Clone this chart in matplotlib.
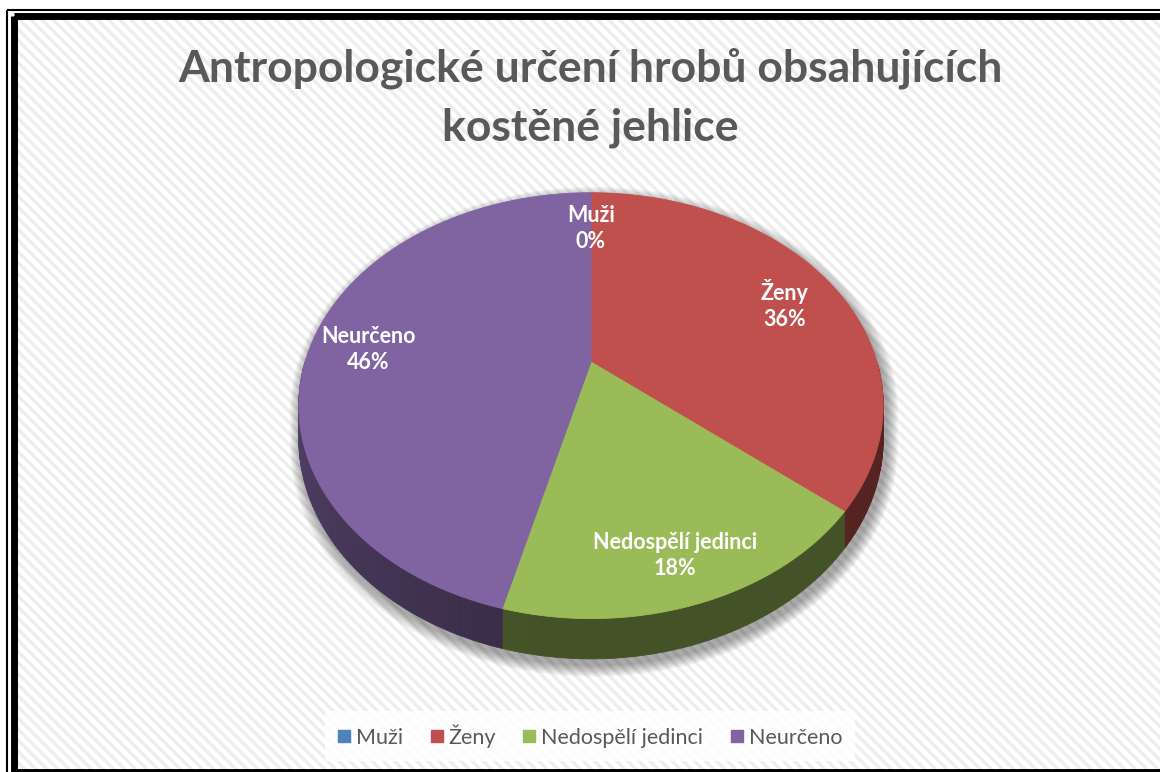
import numpy as np
import matplotlib
matplotlib.use('Agg')
import matplotlib.pyplot as plt
from matplotlib.patches import Polygon, Rectangle
from matplotlib.lines import Line2D
import matplotlib.colors as mcolors

# ---------------- data ----------------
categories = ['Muži', 'Ženy', 'Nedospělí jedinci', 'Neurčeno']
values = [0, 36, 18, 46]
colors = ['#4F81BD', '#C0504D', '#9BBB59', '#8064A2']
title_lines = ['Antropologické určení hrobů obsahujících', 'kostěné jehlice']

FONT = ['Lato', 'DejaVu Sans']
TXT = '#595959'

W, H = 1160, 772
fig = plt.figure(figsize=(W / 100, H / 100), dpi=100)
ax = fig.add_axes([0, 0, 1, 1])
ax.set_xlim(0, W)
ax.set_ylim(H, 0)
ax.axis('off')

# ---------------- background ----------------
plt.rcParams['hatch.linewidth'] = 2.4
ax.add_patch(Rectangle((0, 0), W, H, facecolor='white', edgecolor='none', zorder=0))
ax.add_patch(Rectangle((17, 19), W, H, facecolor='none', edgecolor='#EDEDED',
                       hatch='\\\\\\', linewidth=0, zorder=0.5))

# frame
ax.add_patch(Rectangle((7, 10), W + 20, H, facecolor='none', edgecolor='black',
                       linewidth=1.5, zorder=10))
ax.add_patch(Rectangle((13.5, 16), W + 20, 755.5, facecolor='none', edgecolor='black',
                       linewidth=5.0, zorder=10))

# ---------------- perspective pie ----------------
cx, cy = 591, 362
A, B, p, D = 286, 204, 0.205, 32


def proj(theta_deg, r=1.0, drop=0.0):
    t = np.radians(theta_deg)
    x = r * np.sin(t)
    z = -r * np.cos(t)
    s = 1.0 / (1.0 - p * z)
    return cx + A * x * s, cy + B * z * s + D * drop * s


total = float(sum(values))
bounds = np.concatenate([[0.0], np.cumsum(values) / total * 360.0])

# shadow (soft, layered)
th = np.linspace(0, 360, 721)
tx, ty = proj(th)
bx, by = proj(th, drop=1.0)
allx = np.concatenate([tx, bx])
ally = np.concatenate([ty, by])


def hull(x, y):
    pts = sorted(set(zip(np.round(x, 2), np.round(y, 2))))
    def cross(o, a, b):
        return (a[0] - o[0]) * (b[1] - o[1]) - (a[1] - o[1]) * (b[0] - o[0])
    lower, upper = [], []
    for pt in pts:
        while len(lower) >= 2 and cross(lower[-2], lower[-1], pt) <= 0:
            lower.pop()
        lower.append(pt)
    for pt in reversed(pts):
        while len(upper) >= 2 and cross(upper[-2], upper[-1], pt) <= 0:
            upper.pop()
        upper.append(pt)
    return np.array(lower[:-1] + upper[:-1])


hp = hull(allx, ally)
hc = hp.mean(axis=0)
for e in range(1, 13):
    d = hp - hc
    n = np.hypot(d[:, 0], d[:, 1])[:, None]
    pts = hc + d * (1 + e / n) + np.array([3, 6])
    ax.add_patch(Polygon(pts, closed=True, facecolor='black', edgecolor='none',
                         alpha=0.03, zorder=1))

# sides
for i, (v, c) in enumerate(zip(values, colors)):
    a0, a1 = bounds[i], bounds[i + 1]
    lo, hi = max(a0, 90.0), min(a1, 270.0)
    if v == 0 or hi <= lo:
        continue
    base = np.array(mcolors.to_rgb(c))
    steps = np.linspace(lo, hi, int((hi - lo) / 1.0) + 2)
    for s0, s1 in zip(steps[:-1], steps[1:]):
        m = 0.5 * (s0 + s1)
        f = 0.44 + 0.22 * np.clip((m - 190.0) / 80.0, 0, 1)
        col = base * f
        x0, y0 = proj(s0)
        x1, y1 = proj(s1)
        x2, y2 = proj(s1, drop=1.0)
        x3, y3 = proj(s0, drop=1.0)
        ax.add_patch(Polygon([(x0, y0), (x1, y1), (x2, y2), (x3, y3)], closed=True,
                             facecolor=col, edgecolor=col, linewidth=0.6, zorder=2))

# top faces
for i, (v, c) in enumerate(zip(values, colors)):
    if v == 0:
        continue
    a0, a1 = bounds[i], bounds[i + 1]
    arc = np.linspace(a0, a1, max(int(a1 - a0) * 2, 4))
    ax_, ay_ = proj(arc)
    pts = np.column_stack([np.concatenate([[cx], ax_]), np.concatenate([[cy], ay_])])
    ax.add_patch(Polygon(pts, closed=True, facecolor=c, edgecolor=c, linewidth=0.6, zorder=3))

# data labels
for i, (cat, v) in enumerate(zip(categories, values)):
    mid = 0.5 * (bounds[i] + bounds[i + 1])
    lx, ly = proj(mid, r=0.8, drop=0.25)
    pct = round(v / total * 100)
    ax.text(lx, ly, f'{cat}\n{pct}%', ha='center', va='center', color='white',
            fontsize=15.5, fontweight='bold', family=FONT, linespacing=1.3, zorder=5)

# ---------------- title ----------------
ax.text(590, 68, title_lines[0], ha='center', va='center', color=TXT, fontsize=32,
        fontweight='bold', family=FONT, zorder=5)
ax.text(590, 128, title_lines[1], ha='center', va='center', color=TXT, fontsize=32,
        fontweight='bold', family=FONT, zorder=5)

# ---------------- legend ----------------
handles = [Line2D([], [], marker='s', linestyle='none', markerfacecolor=c,
                  markeredgecolor=c, markersize=8) for c in colors]
leg = ax.legend(handles, categories, loc='center', bbox_to_anchor=(590 / W, 1 - 736 / H),
                bbox_transform=fig.transFigure, ncol=4, frameon=True, fancybox=False,
                facecolor='white', edgecolor='none', framealpha=0.85,
                handletextpad=0.25, columnspacing=1.25, handlelength=0.6,
                borderpad=0.6, prop={'family': FONT, 'size': 15.5})
for t in leg.get_texts():
    t.set_color(TXT)
leg.set_zorder(6)

fig.savefig('out.png', dpi=100)
